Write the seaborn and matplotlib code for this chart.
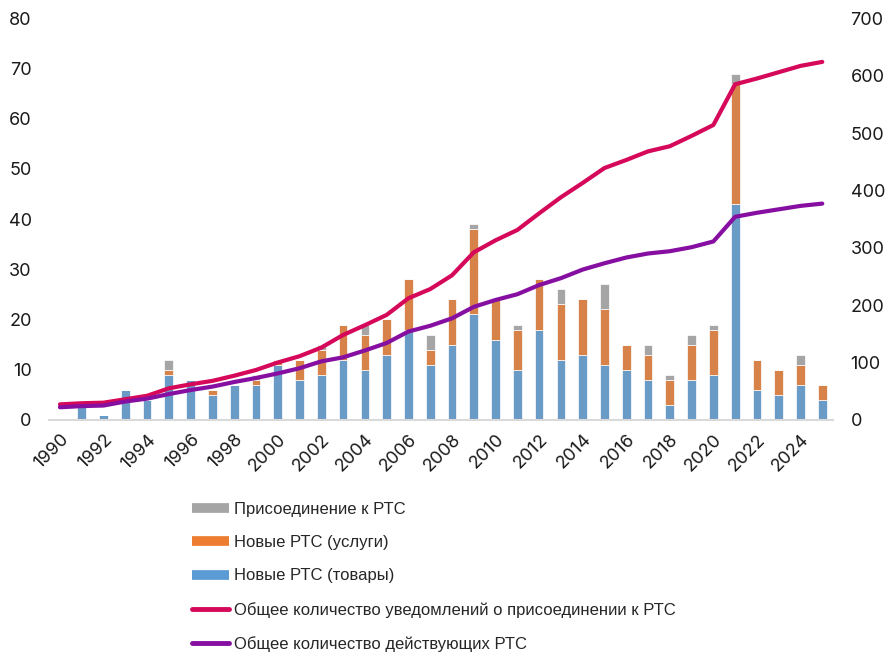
import numpy as np
import pandas as pd
import matplotlib
matplotlib.use("Agg")
import matplotlib.pyplot as plt
from matplotlib.lines import Line2D
import seaborn as sns

# данные
years = list(range(1990, 2026))
goods = [0, 3, 1, 6, 4, 9, 8, 5, 7, 7, 11, 8, 9, 12, 10, 13, 18, 11, 15, 21,
         16, 10, 18, 12, 13, 11, 10, 8, 3, 8, 9, 43, 6, 5, 7, 4]
services = [0, 0, 0, 0, 0, 1, 0, 1, 0, 1, 1, 4, 5, 7, 7, 7, 10, 3, 9, 17,
            8, 8, 10, 11, 11, 11, 5, 5, 5, 7, 9, 24, 6, 5, 4, 3]
accession = [0, 0, 0, 0, 0, 2, 0, 0, 0, 1, 0, 0, 1, 0, 2, 0, 0, 3, 0, 1,
             0, 1, 0, 3, 0, 5, 0, 2, 1, 2, 1, 2, 0, 0, 2, 0]
notified = [27, 29, 30, 36, 42, 55, 62, 68, 77, 87, 100, 111, 126, 148, 165, 183,
            212, 228, 252, 292, 313, 331, 360, 388, 413, 439, 453, 468, 477, 495,
            514, 585, 595, 606, 617, 624]
in_force = [22, 24, 25, 32, 37, 45, 52, 58, 66, 73, 81, 90, 102, 109, 121, 134,
            154, 164, 177, 197, 209, 219, 235, 247, 262, 273, 283, 290, 294, 301,
            311, 354, 361, 367, 373, 377]

labels = ['Присоединение к РТС', 'Новые РТС (услуги)', 'Новые РТС (товары)',
          'Общее количество уведомлений о присоединении к РТС',
          'Общее количество действующих РТС']

c_blue = '#5B9BD5'
c_orange = '#ED7D31'
c_gray = '#A5A5A5'
c_red = '#D5085A'
c_purple = '#860FA2'

sns.set_style('white')
plt.rcParams['font.family'] = ['Inter', 'DejaVu Sans']

goods = np.array(goods)
services = np.array(services)
accession = np.array(accession)

fig = plt.figure(figsize=(8.87, 6.53), dpi=100)
ax = fig.add_axes([0.0553, 0.357, 0.884, 0.615])

bar_kw = dict(native_scale=True, width=0.4, edgecolor='white', linewidth=0.5,
              errorbar=None, ax=ax)
sns.barplot(x=years, y=goods, color=c_blue, **bar_kw)
sns.barplot(x=years, y=services, bottom=goods, color=c_orange, **bar_kw)
sns.barplot(x=years, y=accession, bottom=goods + services, color=c_gray, **bar_kw)

ax.set_xlim(1989.5, 2025.5)
ax.set_ylim(0, 80)
ax.set_yticks(range(0, 81, 10))
ax.set_xticks(range(1990, 2026, 2))
ax.set_xticklabels([str(y) for y in range(1990, 2026, 2)], rotation=45,
                   ha='right', rotation_mode='anchor')
ax.tick_params(axis='both', length=0, labelsize=13, colors='#1a1a1a')
ax.tick_params(axis='x', pad=8)
ax.tick_params(axis='y', pad=12.5)
for s in ['top', 'left', 'right']:
    ax.spines[s].set_visible(False)
ax.spines['bottom'].set_color('#d9d9d9')
ax.spines['bottom'].set_linewidth(1.5)

ax2 = ax.twinx()
sns.lineplot(x=years, y=notified, color=c_red, linewidth=3, ax=ax2)
sns.lineplot(x=years, y=in_force, color=c_purple, linewidth=3, ax=ax2)
ax2.set_ylim(0, 700)
ax2.set_yticks(range(0, 701, 100))
ax2.tick_params(axis='y', length=0, labelsize=13, colors='#1a1a1a', pad=12.5)
for s in ax2.spines.values():
    s.set_visible(False)
ax2.set_xlim(1989.5, 2025.5)

handles = [Line2D([], [], color=c_gray, lw=7, solid_capstyle='butt'),
           Line2D([], [], color=c_orange, lw=7, solid_capstyle='butt'),
           Line2D([], [], color=c_blue, lw=7, solid_capstyle='butt'),
           Line2D([], [], color=c_red, lw=3.5, solid_capstyle='round'),
           Line2D([], [], color=c_purple, lw=3.5, solid_capstyle='round')]
fig.legend(handles, labels, loc='upper left', bbox_to_anchor=(0.2165, 0.231),
           frameon=False, labelspacing=1.09, handlelength=2.2,
           handletextpad=0.3, borderpad=0, borderaxespad=0,
           prop={'family': ['Liberation Sans', 'DejaVu Sans'], 'size': 12})

fig.savefig('out.png', dpi=100)
